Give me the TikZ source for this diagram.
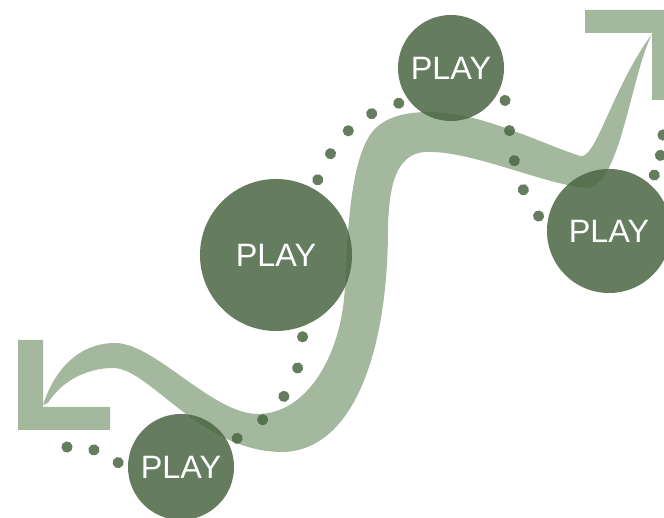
\documentclass[tikz,border=0pt]{standalone}
\usepackage{fontspec}
\setmainfont{Liberation Sans}
\usetikzlibrary{decorations.markings}
\definecolor{bandgreen}{RGB}{163,184,156}
\definecolor{playgreen}{RGB}{74,102,66}

\begin{document}
\begin{tikzpicture}[x=0.025cm, y=0.025cm,
    bubble/.style={circle, fill=playgreen, fill opacity=0.85, text opacity=1, text=white, inner sep=0pt, outer sep=0.25cm, font=\fontsize{23}{26}\selectfont},
    dotpath/.style={decoration={markings, mark=between positions 0 and 1 step #1 with {\fill[playgreen, opacity=0.85] (0,0) circle (0.14cm);}}, decorate},
    arrowhead/.style={fill=bandgreen}
]
\useasboundingbox (0,0) rectangle (664,518);
\clip (0,0) rectangle (664,518);

% S-shaped band, thin at both ends
\fill[bandgreen] (43,113) .. controls (55,150) and (80,175) .. (115,175)
  .. controls (155,175) and (212,104) .. (258,104)
  .. controls (305,104) and (342,160) .. (345,233)
  .. controls (348,300) and (352,355) .. (370,383)
  .. controls (382,401) and (405,406) .. (430,406)
  .. controls (480,406) and (540,375) .. (580,362)
  .. controls (596,358) and (612,430) .. (652,484)
  .. controls (630,440) and (620,328) .. (585,330)
  .. controls (540,335) and (470,368) .. (425,366)
  .. controls (395,364) and (389,330) .. (388,290)
  .. controls (388,170) and (355,68) .. (283,66)
  .. controls (200,66) and (150,150) .. (113,150)
  .. controls (85,150) and (60,135) .. (48,115)
  -- cycle;

% Arrow heads
\fill[arrowhead] (18,178) -- (43,178) -- (43,111) -- (110,111) -- (110,88) -- (18,88) -- cycle;
\fill[arrowhead] (585,508) -- (676,508) -- (676,418) -- (652,418) -- (652,485) -- (585,485) -- cycle;

% Play bubbles
\node[bubble, minimum size=2.65cm] (play1) at (181,51) {PLAY};
\node[bubble, minimum size=3.8cm] (play2) at (276,263) {PLAY};
\node[bubble, minimum size=2.65cm] (play3) at (451,450) {PLAY};
\node[bubble, minimum size=3.1cm] (play4) at (609,287) {PLAY};

% Dotted links
\coordinate (dotstart) at (67,71);
\coordinate (dotend) at (663,383);
\path[dotpath=0.5] (dotstart) to[out=8, in=150] (play1.176);
\path[dotpath=0.25] (play1.27) to[out=32, in=-92] (play2.-72);
\path[dotpath=0.25] (play2.61) to[out=68, in=195] (play3.-146);
\path[dotpath=0.25] (play3.-31) to[out=-80, in=126] (play4.168);
\path[dotpath=0.5] (play4.51) to[out=70, in=-93] (dotend);

\end{tikzpicture}
\end{document}
